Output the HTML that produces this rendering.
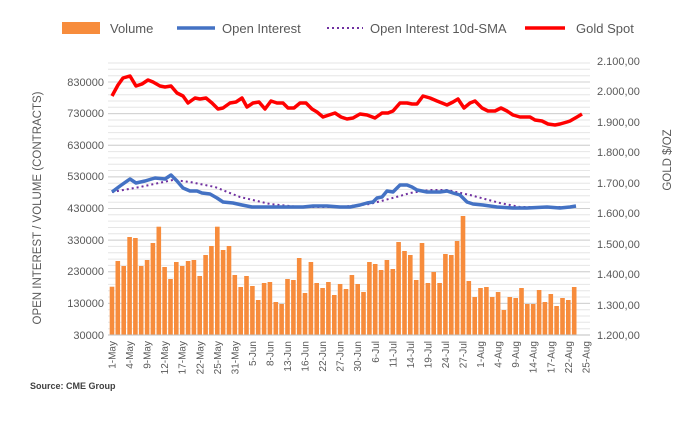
<!DOCTYPE html>
<html><head><meta charset="utf-8"><style>
body{margin:0;background:#fff;}
svg{display:block;font-family:"Liberation Sans",sans-serif;}
</style></head><body>
<svg id="c" width="700" height="425" viewBox="0 0 700 425" xmlns="http://www.w3.org/2000/svg">
<g id="grid"></g>
<g id="bars" fill="#f78c3c"></g>
<line x1="108" y1="335" x2="590" y2="335" stroke="#bfbfbf" stroke-width="1"/>
<polyline fill="none" stroke="#7030a0" stroke-width="2" stroke-dasharray="2,3" points="112,192 140,187 173,180 190,182 215,187 240,197 270,204 300,207 340,207 370,204 400,196 410,193 430,190 447,190 470,195 500,203 520,207 576,207"/>
<polyline fill="none" stroke="#4472c4" stroke-width="3.5" stroke-linejoin="round" points="112,192 120,186 130,179 136,183 145,181 155,178 165,179 171,175 177,181 183,188 190,191 197,191 202,193 210,194 217,198 223,202 233,203 242,205 252,207 267,207 287,207 303,207 313,206 327,206 340,207 350,207 360,205 367,203 373,202 377,198 382,197 387,191 393,192 400,185 407,185 412,187 417,190 427,192 440,192 447,191 453,193 460,195 467,202 473,204 483,205 497,207 513,208 527,208 547,207 560,208 570,207 576,206"/>
<polyline fill="none" stroke="#ff0000" stroke-width="3.5" stroke-linejoin="round" points="112,96 118,85 123,78 130,76 136,86 142,84 148,80 153,82 160,86 165,87 171,86 177,93 183,96 188,103 195,98 200,99 206,98 212,103 218,109 223,108 230,103 236,102 242,98 247,107 253,103 259,102 265,109 271,101 277,103 283,103 288,108 294,108 300,103 306,103 312,109 317,112 323,117 329,115 335,113 341,117 347,119 353,118 360,114 367,115 375,118 382,113 388,113 393,111 400,103 407,103 412,104 417,104 423,96 430,98 437,101 447,105 453,102 458,99 464,108 470,103 475,101 482,108 488,111 495,111 501,108 507,111 513,115 520,117 527,117 530,117 535,120 542,121 548,124 555,125 560,124 567,122 570,121 577,117 582,114"/>
<g font-size="11" fill="#595959" text-anchor="end">
<text x="104" y="86">830000</text><text x="104" y="117">730000</text><text x="104" y="149">630000</text><text x="104" y="180">530000</text><text x="104" y="212">430000</text><text x="104" y="244">330000</text><text x="104" y="275">230000</text><text x="104" y="307">130000</text><text x="104" y="339">30000</text>
</g>
<g font-size="11" fill="#595959" text-anchor="start">
<text x="597" y="65">2.100,00</text><text x="597" y="95">2.000,00</text><text x="597" y="126">1.900,00</text><text x="597" y="156">1.800,00</text><text x="597" y="187">1.700,00</text><text x="597" y="217">1.600,00</text><text x="597" y="248">1.500,00</text><text x="597" y="278">1.400,00</text><text x="597" y="309">1.300,00</text><text x="597" y="339">1.200,00</text>
</g>
<g id="xl" font-size="10" fill="#595959" text-anchor="end"></g>
<text transform="translate(41,208) rotate(-90)" font-size="11.5" fill="#595959" text-anchor="middle">OPEN INTEREST / VOLUME (CONTRACTS)</text>
<text transform="translate(671,160) rotate(-90)" font-size="11.5" fill="#595959" text-anchor="middle">GOLD $/OZ</text>
<text x="30" y="389" font-size="9" fill="#404040" font-weight="bold">Source: CME Group</text>
<g font-size="13" fill="#595959">
<rect x="62" y="22" width="38" height="12" fill="#f78c3c"/><text x="110" y="33">Volume</text>
<line x1="177" y1="28" x2="215" y2="28" stroke="#4472c4" stroke-width="3.5"/><text x="222" y="33">Open Interest</text>
<line x1="327" y1="28" x2="363" y2="28" stroke="#7030a0" stroke-width="2" stroke-dasharray="2,3"/><text x="370" y="33">Open Interest 10d-SMA</text>
<line x1="525" y1="28" x2="565" y2="28" stroke="#ff0000" stroke-width="3.5"/><text x="576" y="33">Gold Spot</text>
</g>
</svg>
<script>
var ns="http://www.w3.org/2000/svg";
var g=document.getElementById("grid");
for(var y=82;y<=336;y+=253/40){var l=document.createElementNS(ns,"line");l.setAttribute("x1",108);l.setAttribute("x2",590);l.setAttribute("y1",y.toFixed(1));l.setAttribute("y2",y.toFixed(1));l.setAttribute("stroke","#e6e6e6");l.setAttribute("stroke-width","1");g.appendChild(l);}
for(var y=82-253/40;y>58;y-=253/40){var l=document.createElementNS(ns,"line");l.setAttribute("x1",108);l.setAttribute("x2",590);l.setAttribute("y1",y.toFixed(1));l.setAttribute("y2",y.toFixed(1));l.setAttribute("stroke","#e6e6e6");g.appendChild(l);}
for(var i=0;i<9;i++){var y=82+i*253/8;var l=document.createElementNS(ns,"line");l.setAttribute("x1",108);l.setAttribute("x2",590);l.setAttribute("y1",y.toFixed(1));l.setAttribute("y2",y.toFixed(1));l.setAttribute("stroke","#d0d0d0");g.appendChild(l);}
var p=[260,183,198,111,114,198,180,129,80,201,237,186,198,183,180,228,165,138,80,150,138,225,261,228,258,300,249,246,306,312,237,240,174,279,186,249,264,246,285,252,267,225,252,276,186,192,210,180,207,126,153,165,240,129,249,216,249,162,165,123,48,243,291,264,261,291,276,330,291,294,264,312,312,270,306,282,318,294,300,261];
var b=document.getElementById("bars");
for(var i=0;i<p.length;i++){var t=200+p[i]/3;var r=document.createElementNS(ns,"rect");r.setAttribute("x",(112+i*5.85-2.3).toFixed(1));r.setAttribute("y",t.toFixed(1));r.setAttribute("width","4.6");r.setAttribute("height",(335-t).toFixed(1));b.appendChild(r);}
var labs=["1-May","4-May","9-May","12-May","17-May","22-May","25-May","31-May","5-Jun","8-Jun","13-Jun","16-Jun","22-Jun","27-Jun","30-Jun","6-Jul","11-Jul","14-Jul","19-Jul","24-Jul","27-Jul","1-Aug","4-Aug","9-Aug","14-Aug","17-Aug","22-Aug","25-Aug"];
var xl=document.getElementById("xl");
for(var i=0;i<labs.length;i++){var x=112+i*3*5.85+3.5;var t=document.createElementNS(ns,"text");t.setAttribute("transform","translate("+x.toFixed(1)+",341) rotate(-90)");t.textContent=labs[i];xl.appendChild(t);}
</script>
</body></html>
